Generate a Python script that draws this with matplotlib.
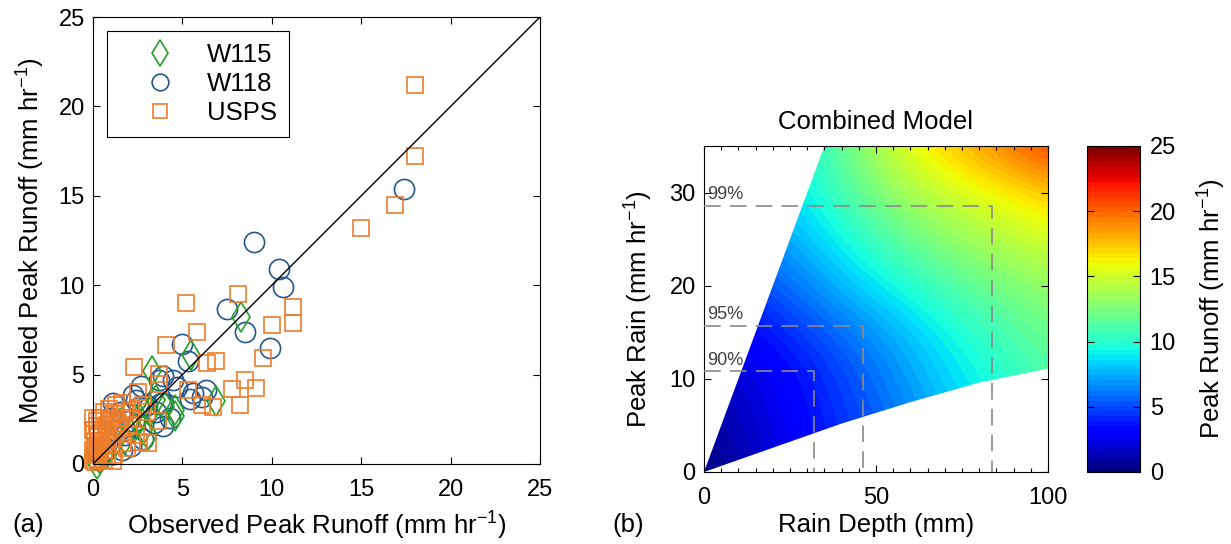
import numpy as np
import matplotlib
matplotlib.use('Agg')
import matplotlib.pyplot as plt
from matplotlib.patches import Polygon
from matplotlib.lines import Line2D
from matplotlib.ticker import MultipleLocator

plt.rcParams['font.family'] = ['Liberation Sans', 'DejaVu Sans']
plt.rcParams['mathtext.fontset'] = 'custom'
plt.rcParams['mathtext.rm'] = 'Liberation Sans'
plt.rcParams['mathtext.it'] = 'Liberation Sans:italic'
plt.rcParams['mathtext.bf'] = 'Liberation Sans:bold'

# (a) observed vs modeled peak runoff (mm/hr)
w115_obs = [8.3, 5.5, 3.3, 6.9, 4.6, 4.0, 3.1, 3.55, 3.2, 2.8, 4.6, 2.3, 1.8, 1.2,
            0.8, 0.4, 0.2, 1.5, 2.6]
w115_mod = [8.2, 6.1, 5.2, 3.5, 2.7, 3.2, 1.6, 3.6, 2.9, 1.9, 3.0, 2.0, 1.4, 1.1,
            0.6, 0.3, 0.0, 2.3, 2.6]

w118_obs = [17.4, 9.0, 10.4, 10.6, 7.5, 8.5, 5.0, 5.3, 9.9, 3.7, 2.7, 4.7, 5.6, 6.3,
            6.1, 3.9, 3.55, 3.0, 2.25, 1.1, 2.1, 5.4, 3.9, 4.5, 2.4, 2.6, 3.8, 4.3,
            3.9, 3.4, 1.5, 2.0, 1.8, 1.2, 0.8, 0.5, 1.6, 2.8, 0.3, 1.0]
w118_mod = [15.4, 12.4, 10.9, 9.9, 8.65, 7.4, 6.7, 5.75, 6.5, 4.7, 4.35, 4.3, 3.95, 4.15,
            3.75, 3.4, 2.9, 3.3, 3.85, 3.4, 1.0, 3.65, 4.9, 4.7, 3.6, 3.2, 3.4, 2.6,
            2.1, 2.3, 2.9, 2.4, 1.6, 1.9, 1.2, 0.6, 0.8, 1.4, 0.2, 2.6]

usps_obs = [18.0, 18.0, 16.9, 15.0, 5.2, 8.1, 11.2, 11.2, 10.0, 5.8, 4.1, 9.5, 2.3, 6.4,
            6.9, 3.7, 3.7, 5.3, 7.8, 8.5, 9.1, 8.2, 6.1, 6.7, 3.65, 3.1, 2.6, 1.1, 2.5,
            0.2, 0.4, 0.6, 0.8, 1.0, 1.2, 1.4, 1.6, 1.8, 2.0, 2.2, 0.3, 0.5, 0.7, 0.9,
            1.1, 1.3, 1.5, 1.7, 0.1, 0.2, 0.4, 0.6, 0.3, 0.1, 2.4, 1.9, 1.2, 0.8, 0.05,
            0.0, 0.1, 0.0, 0.2, 0.1, 0.3, 0.0, 0.2, 0.5, 0.4, 0.6, 0.0, 0.9, 1.3, 2.8,
            3.0, 1.6, 2.1]
usps_mod = [21.2, 17.2, 14.5, 13.2, 9.0, 9.5, 8.8, 7.9, 7.8, 7.4, 6.65, 5.95, 5.4, 5.65,
            5.75, 5.05, 4.5, 4.15, 4.2, 4.7, 4.25, 3.3, 3.3, 3.2, 2.4, 1.15, 1.25, 0.15, 4.05,
            2.4, 2.6, 2.9, 2.2, 2.5, 2.8, 2.3, 2.6, 2.9, 2.2, 2.5, 1.5, 1.8, 1.6, 1.9,
            1.4, 1.7, 2.0, 1.2, 0.9, 0.6, 1.1, 0.8, 0.3, 0.1, 1.6, 0.9, 0.5, 0.4, 1.9,
            0.2, 0.5, 0.8, 1.0, 1.3, 1.6, 1.9, 2.1, 1.3, 0.7, 0.2, 2.6, 3.1, 3.3, 3.3,
            2.9, 3.4, 3.0]

# (b) combined model: peak runoff read on a depth x peak-rain grid
rain_depth = [0, 10, 20, 30, 40, 50, 60, 70, 80, 90, 100]
peak_rain = [0, 5, 10, 15, 20, 25, 30, 35]
peak_runoff = [
    [0.0, 1.0, 2.0, 3.0, 4.0, 5.0, 6.0, 7.0, 8.0, 9.0, 10.0],
    [0.8, 1.4, 2.4, 3.4, 4.4, 5.4, 6.5, 7.6, 8.7, 9.8, 10.8],
    [1.5, 1.9, 2.7, 3.6, 4.8, 5.9, 7.1, 8.3, 9.3, 10.2, 11.0],
    [2.3, 2.8, 3.8, 4.8, 5.8, 6.9, 8.0, 9.2, 10.2, 11.1, 12.0],
    [3.8, 4.5, 5.5, 6.5, 7.7, 8.8, 9.9, 10.9, 11.8, 12.5, 13.2],
    [5.6, 6.2, 6.9, 8.0, 9.3, 10.7, 11.9, 12.9, 13.7, 14.4, 15.0],
    [7.6, 8.0, 8.5, 9.3, 10.9, 12.5, 13.8, 14.8, 15.6, 16.4, 17.3],
    [8.5, 8.9, 9.3, 9.8, 11.8, 13.9, 15.8, 17.2, 18.5, 19.8, 21.0],
]
# limits of observed storms (wedge)
upper_depth = [0, 35]
upper_rain = [0, 35]
lower_depth = [0, 20, 40, 60, 80, 100]
lower_rain = [0, 2.6, 5.2, 7.5, 9.6, 11.1]

pct_labels = ['90%', '95%', '99%']
pct_depth = [32.0, 46.1, 83.6]
pct_rain = [10.8, 15.7, 28.6]

green = '#22a022'
blue = '#25578f'
orange = '#ee7d2b'

fig = plt.figure(figsize=(12.31, 5.44), dpi=100)
ax1 = fig.add_axes([93 / 1231, 80 / 544, 447 / 1231, 447 / 544])
ax2 = fig.add_axes([704 / 1231, 72 / 544, 344 / 1231, 326 / 544])
cax = fig.add_axes([1087 / 1231, 72 / 544, 53 / 1231, 326 / 544])

# ---- panel (a)
ax1.plot(w118_obs, w118_mod, ls='none', marker='o', ms=14.5, mfc='none', mec=blue, mew=1.2, clip_on=False)
ax1.plot(w115_obs, w115_mod, ls='none', marker='d', ms=15, mfc='none', mec=green, mew=1.2, clip_on=False)
ax1.plot(usps_obs, usps_mod, ls='none', marker='s', ms=12, mfc='none', mec=orange, mew=1.2, clip_on=False)
ax1.plot([0, 25], [0, 25], color='k', lw=1.0)

ax1.set_xlim(0, 25)
ax1.set_ylim(0, 25)
ax1.set_xticks(range(0, 26, 5))
ax1.set_yticks(range(0, 26, 5))
ax1.tick_params(direction='in', top=True, right=True, length=5, width=0.8, labelsize=17)
ax1.tick_params(axis='x', pad=11)
ax1.tick_params(axis='y', pad=6)
ax1.set_xlabel('Observed Peak Runoff (mm hr$^{-1}$)', fontsize=18.5)
ax1.set_ylabel('Modeled Peak Runoff (mm hr$^{-1}$)', fontsize=18.5)
ax1.xaxis.set_label_coords(0.5, -0.103)
ax1.yaxis.set_label_coords(-0.103, 0.5)

handles = [
    Line2D([], [], ls='none', marker='d', ms=13, mfc='none', mec=green, mew=1.2),
    Line2D([], [], ls='none', marker='o', ms=12, mfc='none', mec=blue, mew=1.2),
    Line2D([], [], ls='none', marker='s', ms=10, mfc='none', mec=orange, mew=1.2),
]
leg = ax1.legend(handles, ['W115', 'W118', 'USPS'], loc='upper left', fontsize=18.5,
                 borderaxespad=0.55, borderpad=0.45, handlelength=3.2, handletextpad=0.25,
                 labelspacing=0.2, fancybox=False, edgecolor='k', framealpha=1)
leg.get_frame().set_linewidth(0.8)

# ---- panel (b)
jet64 = plt.get_cmap('jet', 64)
dstep = rain_depth[1] - rain_depth[0]
rstep = peak_rain[1] - peak_rain[0]
im = ax2.imshow(np.array(peak_runoff), origin='lower', cmap=jet64, vmin=0, vmax=25,
                interpolation='bicubic', aspect='auto',
                extent=(rain_depth[0] - dstep / 2, rain_depth[-1] + dstep / 2,
                        peak_rain[0] - rstep / 2, peak_rain[-1] + rstep / 2))
verts = list(zip(upper_depth, upper_rain)) + [(100, 35)] + list(zip(lower_depth[::-1], lower_rain[::-1]))
wedge = Polygon(verts, closed=True, transform=ax2.transData, facecolor='none', edgecolor='none')
im.set_clip_path(wedge)

for lab, d, r in zip(pct_labels, pct_depth, pct_rain):
    ax2.plot([0, d, d], [r, r, 0], color='#8a8a8a', lw=1.2, ls=(0, (10, 5.5)), zorder=3)
    ax2.text(0.8, r + 0.3, lab, fontsize=13, color='#404040', ha='left', va='bottom', zorder=4)

ax2.set_xlim(0, 100)
ax2.set_ylim(0, 35)
ax2.set_xticks([0, 50, 100])
ax2.xaxis.set_minor_locator(MultipleLocator(5))
ax2.set_yticks([0, 10, 20, 30])
ax2.set_axisbelow(True)
ax2.tick_params(which='both', direction='in', top=True, right=True, width=0.8, labelsize=17)
ax2.tick_params(which='major', length=5)
ax2.tick_params(which='minor', length=3)
ax2.tick_params(axis='x', which='both', pad=11)
ax2.tick_params(axis='y', pad=6)
ax2.set_title('Combined Model', fontsize=18.5, pad=12)
ax2.set_xlabel('Rain Depth (mm)', fontsize=18.5)
ax2.set_ylabel('Peak Rain (mm hr$^{-1}$)', fontsize=18.5)
ax2.xaxis.set_label_coords(0.5, -0.126)
ax2.yaxis.set_label_coords(-0.142, 0.5)

cb = fig.colorbar(im, cax=cax, ticks=range(0, 26, 5))
cb.outline.set_linewidth(0.8)
cax.tick_params(direction='in', left=True, right=True, length=5, width=0.8, labelsize=17, pad=7)
cb.set_label('Peak Runoff (mm hr$^{-1}$)', fontsize=18.5, labelpad=14)

for a in (ax1, ax2):
    for s in a.spines.values():
        s.set_linewidth(0.8)

fig.text(28 / 1231, 1 - 525 / 544, '(a)', fontsize=18.5, ha='center', va='center')
fig.text(628 / 1231, 1 - 525 / 544, '(b)', fontsize=18.5, ha='center', va='center')

fig.savefig('out.png', dpi=100)
